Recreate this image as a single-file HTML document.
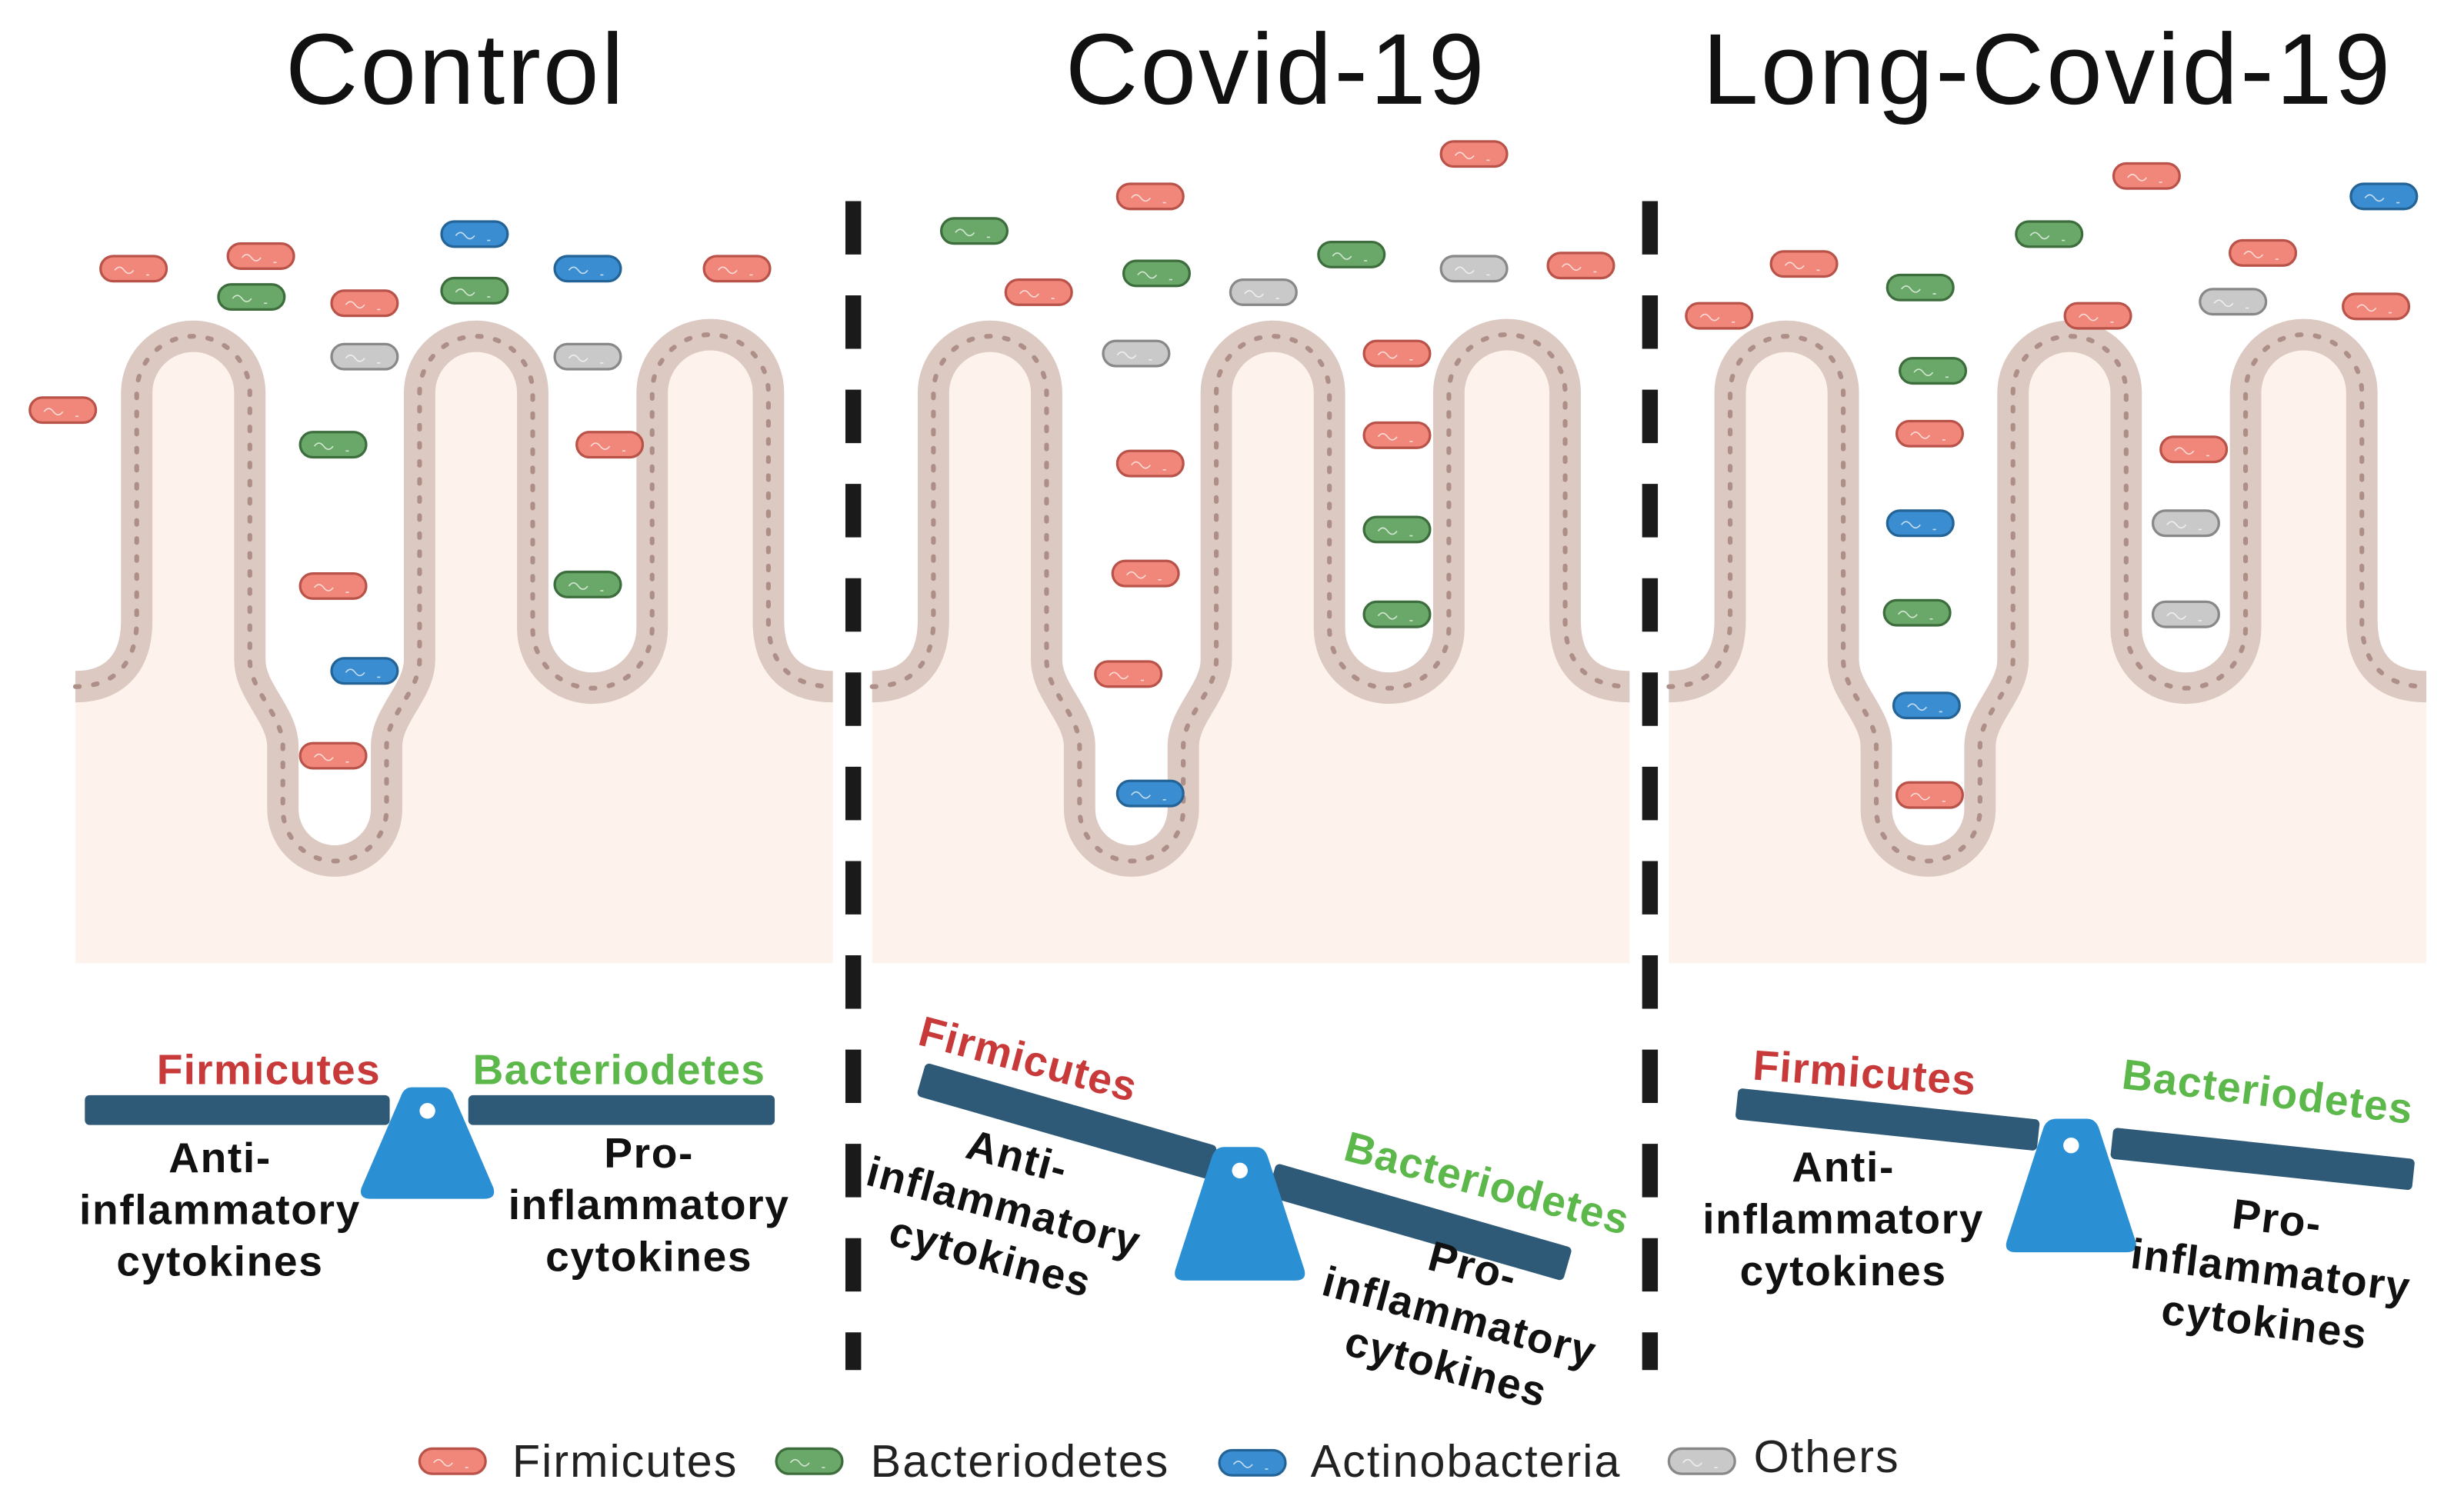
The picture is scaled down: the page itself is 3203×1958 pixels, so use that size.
<!DOCTYPE html>
<html><head><meta charset="utf-8"><style>
html,body{margin:0;padding:0;background:#fff;}
svg{display:block;}
text{font-family:"Liberation Sans",sans-serif;}
.b{font-weight:bold;font-size:27px;fill:#111;letter-spacing:0.8px;}
.t{font-size:64px;fill:#111;letter-spacing:1.5px;}
</style></head><body>
<svg width="3203" height="1958" viewBox="0 0 1568 958.5" preserveAspectRatio="none" xmlns="http://www.w3.org/2000/svg">
<defs>
<path id="mem" d="M48,437 C70,437 87,425 87,395 L87,250 A36,36 0 0 1 159,250 L159,420 C159,440 180,455 180,475 L180,515 A33,33 0 0 0 246,515 L246,475 C246,455 267,440 267,420 L267,250 A36,36 0 0 1 339,250 L339,400 A38,38 0 0 0 415,400 L415,250 A37,37 0 0 1 489,250 L489,395 C489,425 506,437 530,437"/>
<g id="tissue">
<path d="M48,437 C70,437 87,425 87,395 L87,250 A36,36 0 0 1 159,250 L159,420 C159,440 180,455 180,475 L180,515 A33,33 0 0 0 246,515 L246,475 C246,455 267,440 267,420 L267,250 A36,36 0 0 1 339,250 L339,400 A38,38 0 0 0 415,400 L415,250 A37,37 0 0 1 489,250 L489,395 C489,425 506,437 530,437 L530,613 L48,613 Z" fill="#fdf3ec"/>
<use href="#mem" fill="none" stroke="#dbc9c2" stroke-width="20"/>
<use href="#mem" fill="none" stroke="#ad8f88" stroke-width="3" stroke-dasharray="2.5 9" stroke-linecap="round"/>
</g>
<g id="sq"><path d="M-12,1 q3,-4 6,0 q3,4 6,0 M8,4 l2,0" stroke="#fff" stroke-opacity="0.7" stroke-width="0.8" fill="none"/></g>
<g id="F"><rect x="-21" y="-8" width="42" height="16" rx="8" fill="#f0877a" stroke="#b9534a" stroke-width="1.6"/><use href="#sq"/></g>
<g id="G"><rect x="-21" y="-8" width="42" height="16" rx="8" fill="#6aa869" stroke="#3d6c3d" stroke-width="1.6"/><use href="#sq"/></g>
<g id="A"><rect x="-21" y="-8" width="42" height="16" rx="8" fill="#3a8dd0" stroke="#246396" stroke-width="1.6"/><use href="#sq"/></g>
<g id="O"><rect x="-21" y="-8" width="42" height="16" rx="8" fill="#c9c9c9" stroke="#888" stroke-width="1.6"/><use href="#sq"/></g>
</defs>

<!-- titles -->
<text class="t" x="290" y="66" text-anchor="middle">Control</text>
<text class="t" x="812" y="66" text-anchor="middle">Covid-19</text>
<text class="t" x="1303" y="66" text-anchor="middle">Long-Covid-19</text>

<!-- tissue -->
<use href="#tissue"/>
<use href="#tissue" x="507"/>
<use href="#tissue" x="1014"/>

<!-- dividers -->
<line x1="543" y1="128" x2="543" y2="872" stroke="#1a1a1a" stroke-width="10" stroke-dasharray="34 26"/>
<line x1="1050" y1="128" x2="1050" y2="872" stroke="#1a1a1a" stroke-width="10" stroke-dasharray="34 26"/>

<!-- bacteria control -->
<use href="#F" x="40" y="261"/><use href="#F" x="85" y="171"/><use href="#F" x="166" y="163"/>
<use href="#G" x="160" y="189"/><use href="#F" x="232" y="193"/><use href="#A" x="302" y="149"/>
<use href="#G" x="302" y="185"/><use href="#A" x="374" y="171"/><use href="#F" x="469" y="171"/>
<use href="#O" x="232" y="227"/><use href="#O" x="374" y="227"/><use href="#G" x="212" y="283"/>
<use href="#F" x="388" y="283"/><use href="#F" x="212" y="373"/><use href="#G" x="374" y="372"/>
<use href="#A" x="232" y="427"/><use href="#F" x="212" y="481"/>
<!-- covid -->
<use href="#G" x="620" y="147"/><use href="#F" x="732" y="125"/><use href="#F" x="938" y="98"/>
<use href="#F" x="661" y="186"/><use href="#G" x="736" y="174"/><use href="#O" x="804" y="186"/>
<use href="#G" x="860" y="162"/><use href="#O" x="938" y="171"/><use href="#F" x="1006" y="169"/>
<use href="#O" x="723" y="225"/><use href="#F" x="889" y="225"/><use href="#F" x="732" y="295"/>
<use href="#F" x="889" y="277"/><use href="#F" x="729" y="365"/><use href="#G" x="889" y="337"/>
<use href="#G" x="889" y="391"/><use href="#F" x="718" y="429"/><use href="#A" x="732" y="505"/>
<!-- long covid -->
<use href="#F" x="1366" y="112"/><use href="#A" x="1517" y="125"/><use href="#G" x="1304" y="149"/>
<use href="#F" x="1148" y="168"/><use href="#G" x="1222" y="183"/><use href="#F" x="1440" y="161"/>
<use href="#F" x="1094" y="201"/><use href="#F" x="1335" y="201"/><use href="#O" x="1421" y="192"/>
<use href="#F" x="1512" y="195"/><use href="#G" x="1230" y="236"/><use href="#F" x="1228" y="276"/>
<use href="#F" x="1396" y="286"/><use href="#A" x="1222" y="333"/><use href="#O" x="1391" y="333"/>
<use href="#G" x="1220" y="390"/><use href="#O" x="1391" y="391"/><use href="#A" x="1226" y="449"/>
<use href="#F" x="1228" y="506"/>

<!-- seesaw control -->
<rect x="54" y="697" width="194" height="19" rx="3" fill="#2e5a78"/>
<rect x="298" y="697" width="195" height="19" rx="3" fill="#2e5a78"/>
<path d="M262,692 L282,692 Q287,692 289,698 L314,756 Q316,763 308,763 L236,763 Q228,763 230,756 L255,698 Q257,692 262,692 Z" fill="#2b8fd4"/>
<circle cx="272" cy="707" r="5" fill="#fff"/>
<g font-size="27" font-weight="bold" letter-spacing="0.6">
<text x="171" y="690" fill="#c83a3a" text-anchor="middle">Firmicutes</text>
<text x="394" y="690" fill="#5cb84a" text-anchor="middle">Bacteriodetes</text>
</g>
<g class="b" text-anchor="middle"><text x="140" y="746">Anti-</text><text x="140" y="779">inflammatory</text><text x="140" y="812">cytokines</text>
<text x="413" y="743">Pro-</text><text x="413" y="776">inflammatory</text><text x="413" y="809">cytokines</text></g>

<!-- seesaw covid -->
<g transform="rotate(16 789 745)">
<rect x="578" y="734" width="193" height="22" rx="3" fill="#2e5a78"/>
<rect x="810" y="734" width="196" height="22" rx="3" fill="#2e5a78"/>
</g>
<path d="M779,730 L799,730 Q805,730 807,737 L830,808 Q832,815 824,815 L754,815 Q746,815 748,808 L771,737 Q773,730 779,730 Z" fill="#2b8fd4"/>
<circle cx="789" cy="745" r="5" fill="#fff"/>
<g font-size="27" font-weight="bold" letter-spacing="0.6">
<text transform="translate(652,683) rotate(15)" fill="#c83a3a" text-anchor="middle">Firmicutes</text>
<text transform="translate(944,762) rotate(15)" fill="#5cb84a" text-anchor="middle">Bacteriodetes</text>
</g>
<g class="b" text-anchor="middle" transform="translate(645,745) rotate(15)"><text x="0" y="0">Anti-</text><text x="0" y="33">inflammatory</text><text x="0" y="66">cytokines</text></g>
<g class="b" text-anchor="middle" transform="translate(935,815) rotate(15)"><text x="0" y="0">Pro-</text><text x="0" y="33">inflammatory</text><text x="0" y="66">cytokines</text></g>

<!-- seesaw long covid -->
<g transform="rotate(6 1320 725)">
<rect x="1104" y="715" width="193" height="20" rx="3" fill="#2e5a78"/>
<rect x="1344" y="715" width="193" height="20" rx="3" fill="#2e5a78"/>
</g>
<path d="M1309,712 L1328,712 Q1334,712 1336,719 L1359,790 Q1361,797 1353,797 L1283,797 Q1275,797 1277,790 L1300,719 Q1302,712 1309,712 Z" fill="#2b8fd4"/>
<circle cx="1318" cy="729" r="5" fill="#fff"/>
<g font-size="27" font-weight="bold" letter-spacing="0.6">
<text transform="translate(1186,692) rotate(4)" fill="#c83a3a" text-anchor="middle">Firmicutes</text>
<text transform="translate(1442,704) rotate(7)" fill="#5cb84a" text-anchor="middle">Bacteriodetes</text>
</g>
<g class="b" text-anchor="middle"><text x="1173" y="752">Anti-</text><text x="1173" y="785">inflammatory</text><text x="1173" y="818">cytokines</text></g>
<g class="b" text-anchor="middle" transform="translate(1448,785) rotate(7)"><text x="0" y="0">Pro-</text><text x="0" y="33">inflammatory</text><text x="0" y="66">cytokines</text></g>

<!-- legend -->
<g font-size="29" fill="#222" letter-spacing="1">
<use href="#F" x="288" y="930"/>
<text x="326" y="940">Firmicutes</text>
<use href="#G" x="515" y="930"/>
<text x="554" y="940">Bacteriodetes</text>
<use href="#A" x="797" y="931"/>
<text x="834" y="940">Actinobacteria</text>
<use href="#O" x="1083" y="930"/>
<text x="1116" y="937">Others</text>
</g>
</svg>
</body></html>
